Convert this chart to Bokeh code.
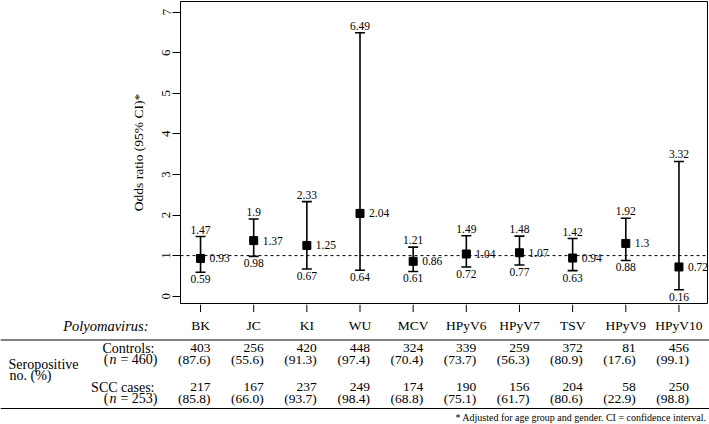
import numpy as np
from bokeh.plotting import figure
from bokeh.models import ColumnDataSource, Range1d, FixedTicker, Whisker, TeeHead, Span
from bokeh.core.properties import value
from bokeh.embed import file_html
from bokeh.resources import INLINE

# ---------------- data ----------------
viruses = ["BK", "JC", "KI", "WU", "MCV", "HPyV6", "HPyV7", "TSV", "HPyV9", "HPyV10"]
odds_ratio = [0.93, 1.37, 1.25, 2.04, 0.86, 1.04, 1.07, 0.94, 1.3, 0.72]
ci_lower = [0.59, 0.98, 0.67, 0.64, 0.61, 0.72, 0.77, 0.63, 0.88, 0.16]
ci_upper = [1.47, 1.9, 2.33, 6.49, 1.21, 1.49, 1.48, 1.42, 1.92, 3.32]
y_ticks = [0, 1, 2, 3, 4, 5, 6, 7]
controls_n = [403, 256, 420, 448, 324, 339, 259, 372, 81, 456]
controls_pct = [87.6, 55.6, 91.3, 97.4, 70.4, 73.7, 56.3, 80.9, 17.6, 99.1]
cases_n = [217, 167, 237, 249, 174, 190, 156, 204, 58, 250]
cases_pct = [85.8, 66.0, 93.7, 98.4, 68.8, 75.1, 61.7, 80.6, 22.9, 98.8]
controls_total = 460
cases_total = 253

# ---------------- layout constants ----------------
FONT = value("Liberation Serif")
W = 709
TOP_H = 304
BOT_H = 120
FRAME_L = 180
FRAME_R = 707
X0, X1 = 0.623, 10.537
Y0, Y1 = -0.18, 7.26
scale = (FRAME_R - FRAME_L) / (X1 - X0)
b_start = X0 - FRAME_L / scale
b_end = b_start + W / scale


def bx(px):
    return b_start + px / scale


xs = np.arange(1, len(viruses) + 1)

# ---------------- top plot ----------------
p = figure(width=W, height=TOP_H, x_range=Range1d(X0, X1), y_range=Range1d(Y0, Y1),
           output_backend="svg", toolbar_location=None,
           min_border_left=FRAME_L, min_border_right=W - FRAME_R,
           min_border_top=1, min_border_bottom=1)
p.xaxis.visible = False
p.grid.visible = False
p.outline_line_color = "black"
p.outline_line_width = 1
p.outline_line_alpha = 1

ya = p.yaxis[0]
ya.ticker = FixedTicker(ticks=y_ticks)
ya.major_tick_out = 8
ya.major_tick_in = 0
ya.minor_tick_out = 0
ya.minor_tick_in = 0
ya.axis_line_color = "black"
ya.major_tick_line_color = "black"
ya.major_label_orientation = "vertical"
ya.major_label_text_font = "Liberation Serif"
ya.major_label_text_font_size = "13px"
ya.major_label_text_color = "black"
ya.major_label_standoff = 2
ya.axis_label = "Odds ratio (95% CI)*"
ya.axis_label_text_font = "Liberation Serif"
ya.axis_label_text_font_style = "normal"
ya.axis_label_text_font_size = "13.5px"
ya.axis_label_text_color = "black"
ya.axis_label_standoff = 14

p.add_layout(Span(location=1, dimension="width", line_color="black",
                  line_width=1, line_dash="3 3"))

src = ColumnDataSource(dict(
    x=xs, orr=odds_ratio, lo=ci_lower, hi=ci_upper,
    or_txt=[str(v) for v in odds_ratio],
    lo_txt=[str(v) for v in ci_lower],
    hi_txt=[str(v) for v in ci_upper],
))

p.add_layout(Whisker(base="x", lower="lo", upper="hi", source=src,
                     line_color="black", line_width=1.6,
                     upper_head=TeeHead(size=10, line_width=1.6, line_color="black"),
                     lower_head=TeeHead(size=10, line_width=1.6, line_color="black")))
p.scatter("x", "orr", source=src, marker="square", size=8, color="black")

p.text("x", "hi", text="hi_txt", source=src, text_font=FONT, text_font_size="11.5px",
       text_align="center", text_baseline="middle", y_offset=-7, text_color="black")
p.text("x", "lo", text="lo_txt", source=src, text_font=FONT, text_font_size="11.5px",
       text_align="center", text_baseline="middle", y_offset=7, text_color="black")
p.text("x", "orr", text="or_txt", source=src, text_font=FONT, text_font_size="11.5px",
       text_align="left", text_baseline="middle", x_offset=9, text_color="black")

# ---------------- bottom table ----------------
b = figure(width=W, height=BOT_H, x_range=Range1d(b_start, b_end), y_range=Range1d(BOT_H, 0),
           output_backend="svg", toolbar_location=None, min_border=0,
           min_border_left=0, min_border_right=0, min_border_top=0, min_border_bottom=0)
b.axis.visible = False
b.grid.visible = False
b.outline_line_color = None

# x-axis ticks of the plot
b.segment(x0=xs, y0=0, x1=xs, y1=7.5, line_color="black", line_width=1)

# header row
b.text(xs, [21] * len(xs), text=viruses, text_font=FONT, text_font_size="13.5px",
       text_align="center", text_baseline="middle", text_color="black")
b.text([bx(148)], [21], text=["Polyomavirus:"], text_font=FONT, text_font_size="14.5px",
       text_font_style="italic", text_align="right", text_baseline="middle", text_color="black")

# rules
b.segment(x0=[b_start, b_start], y0=[35.5, 104], x1=[b_end, b_end], y1=[35.5, 104],
          line_color="black", line_width=1)

col_r = xs + 10 / scale
rows = [
    (43.5, [str(v) for v in controls_n]),
    (54.5, [f"({v:.1f})" for v in controls_pct]),
    (82.5, [str(v) for v in cases_n]),
    (93.5, [f"({v:.1f})" for v in cases_pct]),
]
for yy, txt in rows:
    b.text(col_r, [yy] * len(xs), text=txt, text_font=FONT, text_font_size="13.5px",
           text_align="right", text_baseline="middle", text_color="black")

# left-hand labels
b.text([bx(154), bx(154)], [43.5, 82.5], text=["Controls:", "SCC cases:"], text_font=FONT,
       text_font_size="14px", text_align="right", text_baseline="middle", text_color="black")
b.text([bx(8), bx(9)], [60, 71], text=["Seropositive", "no. (%)"], text_font=FONT,
       text_font_size="14px", text_align="left", text_baseline="middle", text_color="black")
for yy, tot in [(54.5, controls_total), (93.5, cases_total)]:
    b.text([bx(108)], [yy], text=["("], text_font=FONT, text_font_size="14px",
           text_align="right", text_baseline="middle", text_color="black")
    b.text([bx(116)], [yy], text=["n"], text_font=FONT, text_font_size="14px",
           text_font_style="italic", text_align="right", text_baseline="middle", text_color="black")
    b.text([bx(157)], [yy], text=[f"= {tot})"], text_font=FONT, text_font_size="14px",
           text_align="right", text_baseline="middle", text_color="black")

# footnote
b.text([bx(706)], [112.5], text=["* Adjusted for age group and gender. CI = confidence interval."],
       text_font=FONT, text_font_size="10px", text_align="right", text_baseline="middle",
       text_color="black")

open("out.html", "w").write(file_html([p, b], INLINE))
